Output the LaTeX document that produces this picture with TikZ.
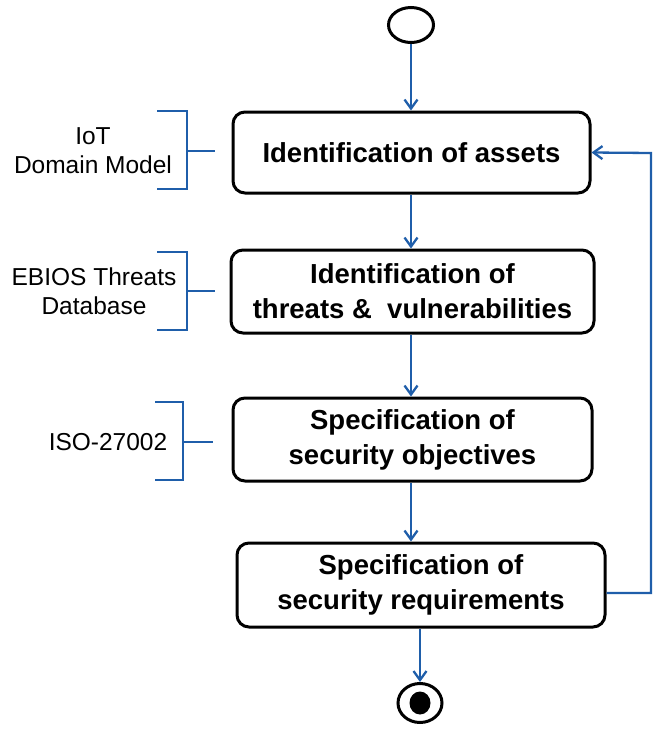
\documentclass[tikz,border=0pt]{standalone}
\usepackage{fontspec}
\setmainfont{Liberation Sans}
\usetikzlibrary{arrows.meta,shapes.geometric}
\definecolor{flowblue}{RGB}{31,94,170}
\begin{document}
\begin{tikzpicture}[x=1pt,y=-1pt,
  stepbox/.style={draw=black,line width=3pt,rounded corners=12pt,align=center,
    font=\fontsize{27.5}{35}\selectfont\bfseries,inner sep=0pt},
  flowarrow/.style={draw=flowblue,line width=2.3pt,-{Straight Barb[length=9pt,width=13pt,line width=2.3pt]}},
  bracketline/.style={draw=flowblue,line width=2.3pt},
  sidelabel/.style={align=center,font=\fontsize{24.5}{29}\selectfont,inner sep=0pt}]
\useasboundingbox (0,0) rectangle (654,734);
% start and end
\node[ellipse,draw=black,line width=3pt,minimum width=45pt,minimum height=35pt,inner sep=0pt] (start) at (411,25) {};
\node[ellipse,draw=black,line width=3pt,minimum width=44pt,minimum height=39pt,inner sep=0pt] (final) at (420,703) {};
\node[ellipse,fill=black,minimum width=21pt,minimum height=23pt,inner sep=0pt] (finaldot) at (final.center) {};
% boxes
\node[stepbox,minimum width=357pt,minimum height=81pt] (b1) at (411.5,152.5) {Identification of assets};
\node[stepbox,minimum width=363pt,minimum height=83pt] (b2) at (412.5,291.5) {Identification of\\threats \& \ vulnerabilities};
\node[stepbox,minimum width=359pt,minimum height=83pt] (b3) at (412.5,439.5) {Specification of\\security objectives};
\node[stepbox,minimum width=368pt,minimum height=84pt] (b4) at (421,585) {Specification of\\security requirements};
% flow arrows
\draw[flowarrow] (start.south) -- (start.south |- b1.north);
\draw[flowarrow] (b1.south -| start.south) -- (start.south |- b2.north);
\draw[flowarrow] (b2.south -| start.south) -- (start.south |- b3.north);
\draw[flowarrow] (b3.south -| start.south) -- (start.south |- b4.north);
\draw[flowarrow] (b4.south -| final.north) -- (final.north);
\coordinate (fb) at (651,153);
\draw[flowarrow] ([yshift=-8pt]b4.east) -| (fb) -- (b1.east);
% side labels with brackets
\node[sidelabel] (l1) at (93,151) {IoT\\Domain Model};
\node[sidelabel] (l2) at (94,291) {EBIOS Threats\\Database};
\node[sidelabel] (l3) at (108,442) {ISO-27002};
\coordinate (k1a) at (157,111); \coordinate (k1b) at (187,189); \coordinate (k1m) at (187,151); \coordinate (k1t) at (215,151);
\coordinate (k2a) at (157,252); \coordinate (k2b) at (187,330); \coordinate (k2m) at (187,291); \coordinate (k2t) at (215,291);
\coordinate (k3a) at (155,402); \coordinate (k3b) at (183,480); \coordinate (k3m) at (183,442); \coordinate (k3t) at (213,442);
\draw[bracketline] (k1a) -| (k1b) -- (k1b -| k1a);
\draw[bracketline] (k1m) -- (k1t);
\draw[bracketline] (k2a) -| (k2b) -- (k2b -| k2a);
\draw[bracketline] (k2m) -- (k2t);
\draw[bracketline] (k3a) -| (k3b) -- (k3b -| k3a);
\draw[bracketline] (k3m) -- (k3t);
\end{tikzpicture}
\end{document}
